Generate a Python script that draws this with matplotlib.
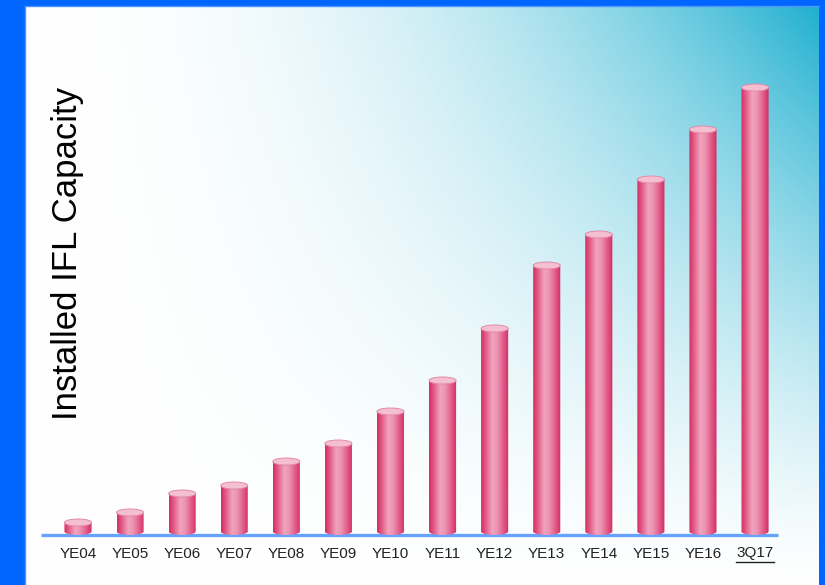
import numpy as np
import matplotlib
matplotlib.use("Agg")
import matplotlib.pyplot as plt
from matplotlib.patches import Ellipse, Polygon
from matplotlib.colors import LinearSegmentedColormap

# ---- data ----
categories = ["YE04", "YE05", "YE06", "YE07", "YE08", "YE09", "YE10",
              "YE11", "YE12", "YE13", "YE14", "YE15", "YE16", "3Q17"]
capacity = [12.5, 22.5, 41.5, 49.5, 73.5, 91.5, 123.5,
            154.5, 206.5, 269.5, 300.5, 355.5, 405.5, 447.5]
y_label = "Installed IFL Capacity"

W, H = 825, 585
fig = plt.figure(figsize=(W / 100, H / 100), dpi=100)
fig.patch.set_facecolor("#0066ff")

rect = [25 / W, 0, 794 / W, 579 / H]

# background gradient (white -> cyan towards top right)
bg = fig.add_axes(rect)
bg.set_axis_off()
nx, ny = 400, 300
u = np.linspace(0, 1, nx)[None, :]
v = np.linspace(1, 0, ny)[:, None]
t = (u ** 2.2) * (v ** 1.3)
white = np.array([1.0, 1.0, 1.0])
cyan = np.array([32, 176, 208]) / 255
img = white[None, None, :] * (1 - t[..., None]) + cyan[None, None, :] * t[..., None]
bg.imshow(img, aspect="auto", extent=[0, 1, 0, 1], interpolation="bilinear")
bg.set_xlim(0, 1)
bg.set_ylim(0, 1)
# light inner edge
bg.plot([0.0005, 0.0005], [0, 1], color="#4d94ff", lw=1.0, transform=bg.transAxes, clip_on=False)
bg.plot([0, 1], [0.9995, 0.9995], color="#4d94ff", lw=1.0, transform=bg.transAxes, clip_on=False)

ax = fig.add_axes(rect)
ax.set_facecolor("none")
ax.set_axis_off()
px_per_unit = 52.08
x0 = 78
ax.set_xlim((25 - x0) / px_per_unit, (819 - x0) / px_per_unit)
ax.set_ylim(-50, 529)

# cylinder colour map across width
body_cmap = LinearSegmentedColormap.from_list(
    "cyl",
    [(0.0, (208/255, 48/255, 98/255)),
     (0.12, (224/255, 78/255, 124/255)),
     (0.40, (241/255, 163/255, 190/255)),
     (0.58, (237/255, 148/255, 180/255)),
     (0.86, (222/255, 78/255, 126/255)),
     (1.0, (206/255, 46/255, 96/255))])

bw = 0.52
eh = 7.0
grad = np.linspace(0, 1, 64)[None, :]
for i, val in enumerate(capacity):
    xl, xr = i - bw / 2, i + bw / 2
    th = np.linspace(np.pi, 2 * np.pi, 40)
    bottom = np.column_stack([i + bw / 2 * np.cos(th), eh / 2 + eh / 2 * np.sin(th)])
    pts = np.vstack([[xl, val], bottom, [xr, val]])
    clip = Polygon(pts, closed=True, transform=ax.transData, facecolor="none", edgecolor="none")
    ax.add_patch(clip)
    im = ax.imshow(grad, cmap=body_cmap, aspect="auto", extent=[xl, xr, 0, val],
                   interpolation="bilinear", zorder=3)
    im.set_clip_path(clip)
    top = Ellipse((i, val), bw, eh, facecolor="#f4bfd1", edgecolor="#e38aab",
                  lw=0.7, zorder=4)
    ax.add_patch(top)

# baseline
ax.plot([(41 - x0) / px_per_unit, (778 - x0) / px_per_unit], [0, 0],
        color="#66a3ff", lw=2.4, solid_capstyle="butt", zorder=2)

# category labels
font = "Liberation Sans"
labels = []
for i, c in enumerate(categories):
    tx = ax.text(i, -18.5, c, ha="center", va="center", fontsize=11,
                 family=font, color="#222222")
    labels.append(tx)

# underline for last label
fig.canvas.draw()
r = fig.canvas.get_renderer()
bb = labels[-1].get_window_extent(r)
inv = ax.transData.inverted()
(lx0, _), (lx1, _) = inv.transform([(bb.x0, 0), (bb.x1, 0)])
ax.plot([lx0, lx1], [-27, -27], color="#222222", lw=1.0)

fig.text(68 / W, 1 - 254 / H, y_label, rotation=90, ha="center", va="center",
         fontsize=25, family=font, color="black")

fig.savefig("out.png", dpi=100, facecolor=fig.get_facecolor())
